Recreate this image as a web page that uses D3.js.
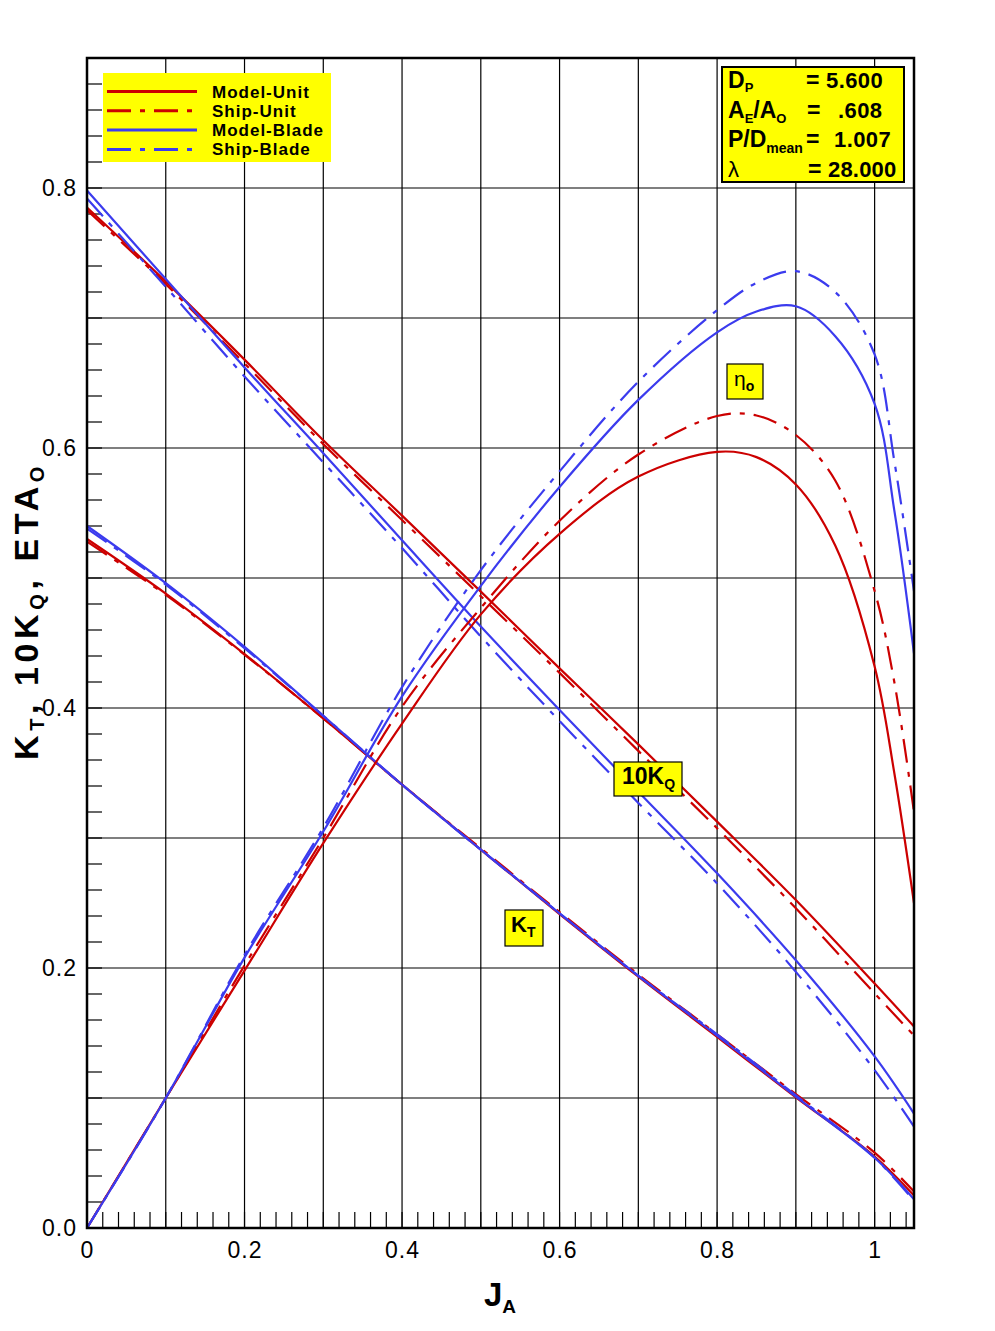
<!DOCTYPE html>
<html><head><meta charset="utf-8">
<script src="https://cdn.jsdelivr.net/npm/d3@7"></script>
<style>
html,body{margin:0;padding:0;background:#fff;}
svg{display:block;font-family:Arial,"Liberation Sans",sans-serif;}
</style></head>
<body>
<svg id="chart" width="995" height="1331"></svg>
<script>
// ---- data ----
const jBase = [0, 0.1, 0.2, 0.3, 0.4, 0.5, 0.6, 0.7, 0.8, 0.9, 1.0, 1.05];
const ktModelUnit  = [0.530, 0.488, 0.4415, 0.392, 0.341, 0.291, 0.2415, 0.1933, 0.147, 0.1005, 0.055, 0.025];
const ktShipUnit   = [0.528, 0.487, 0.441, 0.392, 0.341, 0.292, 0.243, 0.195, 0.149, 0.103, 0.058, 0.028];
const ktModelBlade = [0.540, 0.496, 0.447, 0.394, 0.341, 0.291, 0.242, 0.194, 0.148, 0.101, 0.054, 0.022];
const ktShipBlade  = [0.538, 0.495, 0.446, 0.394, 0.341, 0.291, 0.242, 0.194, 0.149, 0.102, 0.054, 0.021];

const kqModelUnit  = [0.785, 0.728, 0.668, 0.606, 0.548, 0.4895, 0.4305, 0.372, 0.3126, 0.2523, 0.188, 0.155];
const kqShipUnit   = [0.783, 0.726, 0.665, 0.603, 0.5446, 0.486, 0.427, 0.367, 0.3075, 0.246, 0.1805, 0.148];
const kqModelBlade = [0.798, 0.730, 0.662, 0.596, 0.529, 0.4626, 0.3985, 0.3356, 0.2728, 0.206, 0.132, 0.088];
const kqShipBlade  = [0.792, 0.724, 0.655, 0.589, 0.523, 0.455, 0.390, 0.327, 0.265, 0.197, 0.1215, 0.078];

const jEta = [0, 0.1, 0.2, 0.3, 0.4, 0.5, 0.6, 0.7, 0.8, 0.85, 0.9, 0.95, 1.0, 1.025, 1.05];
const etaModelUnit  = [0, 0.1, 0.198, 0.296, 0.388, 0.472, 0.534, 0.578, 0.597, 0.593, 0.572, 0.525, 0.432, 0.35, 0.25];
const etaShipUnit   = [0, 0.1, 0.202, 0.300, 0.401, 0.477, 0.544, 0.595, 0.6246, 0.625, 0.610, 0.575, 0.49, 0.42, 0.32];
const etaModelBlade = [0, 0.1, 0.208, 0.305, 0.409, 0.494, 0.570, 0.637, 0.689, 0.705, 0.709, 0.686, 0.634, 0.552, 0.442];
const etaShipBlade  = [0, 0.1, 0.210, 0.308, 0.416, 0.506, 0.582, 0.651, 0.706, 0.727, 0.736, 0.720, 0.672, 0.590, 0.49];

const seriesNames = ["Model-Unit", "Ship-Unit", "Model-Blade", "Ship-Blade"];
const xTickLabels = [0, 0.2, 0.4, 0.6, 0.8, 1];
const yTickLabels = [0.0, 0.2, 0.4, 0.6, 0.8];

// ---- styling ----
const RED = "#cc0000", BLUE = "#3b3bee";
const DASH = "24,9,5,9";
const styles = {
  "Model-Unit": {color: RED, dash: null},
  "Ship-Unit": {color: RED, dash: DASH},
  "Model-Blade": {color: BLUE, dash: null},
  "Ship-Blade": {color: BLUE, dash: DASH}
};

const svg = d3.select("#chart");
const L = 87, R = 914, T = 58, B = 1228;
const x = d3.scaleLinear().domain([0, 1.05]).range([L, R]);
const y = d3.scaleLinear().domain([0, 0.9]).range([B, T]);

// grid
const grid = svg.append("g");
grid.selectAll("line.v").data(d3.range(1, 11).map(i => i / 10)).join("line")
  .attr("x1", d => x(d)).attr("x2", d => x(d)).attr("y1", T).attr("y2", B)
  .attr("stroke", "#000").attr("stroke-width", 1.2);
grid.selectAll("line.h").data(d3.range(1, 9).map(i => i / 10)).join("line")
  .attr("y1", d => y(d)).attr("y2", d => y(d)).attr("x1", L).attr("x2", R)
  .attr("stroke", "#000").attr("stroke-width", 1.2);

// minor ticks
const xMinor = d3.range(1, 53).map(i => i * 0.02);
svg.append("g").selectAll("line").data(xMinor).join("line")
  .attr("x1", d => x(d)).attr("x2", d => x(d)).attr("y1", B).attr("y2", B - 16)
  .attr("stroke", "#000").attr("stroke-width", 1.2);
const yMinor = d3.range(1, 45).map(i => i * 0.02);
svg.append("g").selectAll("line").data(yMinor).join("line")
  .attr("y1", d => y(d)).attr("y2", d => y(d)).attr("x1", L).attr("x2", L + 15)
  .attr("stroke", "#000").attr("stroke-width", 1.2);

// axes labels via d3 axis
const xAxis = svg.append("g").attr("transform", `translate(0,${B})`)
  .call(d3.axisBottom(x).tickValues(xTickLabels).tickSize(0).tickPadding(14).tickFormat(d => d === 0 ? "0" : d === 1 ? "1" : d3.format(".1f")(d)));
xAxis.select(".domain").remove();
xAxis.selectAll("text").attr("font-size", 23).attr("fill", "#000").attr("font-family", "Arial,'Liberation Sans',sans-serif").attr("letter-spacing", 1);

const yAxis = svg.append("g").attr("transform", `translate(${L},0)`)
  .call(d3.axisLeft(y).tickValues(yTickLabels).tickSize(0).tickPadding(10).tickFormat(d3.format(".1f")));
yAxis.select(".domain").remove();
yAxis.selectAll("text").attr("font-size", 23).attr("fill", "#000").attr("font-family", "Arial,'Liberation Sans',sans-serif").attr("letter-spacing", 1);

// curves
const line = d3.line().x(d => x(d[0])).y(d => y(d[1])).curve(d3.curveCatmullRom.alpha(0.5));
const curves = [
  ["Model-Unit", jBase, ktModelUnit], ["Ship-Unit", jBase, ktShipUnit],
  ["Model-Blade", jBase, ktModelBlade], ["Ship-Blade", jBase, ktShipBlade],
  ["Model-Unit", jBase, kqModelUnit], ["Ship-Unit", jBase, kqShipUnit],
  ["Model-Blade", jBase, kqModelBlade], ["Ship-Blade", jBase, kqShipBlade],
  ["Model-Unit", jEta, etaModelUnit], ["Ship-Unit", jEta, etaShipUnit],
  ["Model-Blade", jEta, etaModelBlade], ["Ship-Blade", jEta, etaShipBlade]
];
const cg = svg.append("g");
curves.forEach(([name, js, vals]) => {
  const s = styles[name];
  cg.append("path").datum(js.map((j, i) => [j, vals[i]]))
    .attr("d", line).attr("fill", "none").attr("stroke", s.color)
    .attr("stroke-width", 2.2).attr("stroke-dasharray", s.dash);
});

// frame
svg.append("rect").attr("x", L).attr("y", T).attr("width", R - L).attr("height", B - T)
  .attr("fill", "none").attr("stroke", "#000").attr("stroke-width", 2.5);

// legend
const lg = svg.append("g");
lg.append("rect").attr("x", 103).attr("y", 73).attr("width", 228).attr("height", 89).attr("fill", "#ffff00");
seriesNames.forEach((n, i) => {
  const yy = 91.5 + i * 19.3;
  lg.append("line").attr("x1", 107).attr("x2", 197).attr("y1", yy).attr("y2", yy)
    .attr("stroke", styles[n].color).attr("stroke-width", 3).attr("stroke-dasharray", styles[n].dash);
  lg.append("text").attr("x", 212).attr("y", yy + 6).attr("font-size", 17).attr("font-weight", "bold")
    .attr("letter-spacing", 1).text(n);
});

// info box
const ib = svg.append("g");
ib.append("rect").attr("x", 722).attr("y", 67).attr("width", 182).attr("height", 115)
  .attr("fill", "#ffff00").attr("stroke", "#000").attr("stroke-width", 2);
function infoRow(yy, build, eqX, valX, val) {
  const t = ib.append("text").attr("x", 728).attr("y", yy).attr("font-size", 23).attr("font-weight", "bold");
  build(t);
  ib.append("text").attr("x", eqX).attr("y", yy).attr("font-size", 23).attr("font-weight", "bold").text("=");
  ib.append("text").attr("x", valX).attr("y", yy).attr("font-size", 22).attr("font-weight", "bold").attr("letter-spacing", 0.4).text(val);
}
infoRow(88, t => { t.append("tspan").text("D"); t.append("tspan").attr("font-size", 13).attr("dy", 4).text("P"); }, 806, 826, "5.600");
infoRow(118, t => {
  t.append("tspan").text("A"); t.append("tspan").attr("font-size", 13).attr("dy", 5).text("E");
  t.append("tspan").attr("dy", -5).text("/A"); t.append("tspan").attr("font-size", 13).attr("dy", 5).text("O");
}, 807, 838, ".608");
infoRow(147, t => { t.append("tspan").text("P/D"); t.append("tspan").attr("font-size", 14).attr("dy", 6).text("mean"); }, 806, 834, "1.007");
ib.append("text").attr("x", 728).attr("y", 177).attr("font-size", 22).text("λ");
ib.append("text").attr("x", 808).attr("y", 177).attr("font-size", 23).attr("font-weight", "bold").text("=");
ib.append("text").attr("x", 828).attr("y", 177).attr("font-size", 22).attr("font-weight", "bold").attr("letter-spacing", 0.2).text("28.000");

// curve labels
const labels = svg.append("g");
labels.append("rect").attr("x", 614).attr("y", 762).attr("width", 68).attr("height", 34).attr("fill", "#ffff00").attr("stroke", "#000").attr("stroke-width", 1.2);
const tq = labels.append("text").attr("x", 622).attr("y", 784).attr("font-size", 23).attr("font-weight", "bold");
tq.append("tspan").text("10K"); tq.append("tspan").attr("font-size", 14).attr("dy", 5).text("Q");

labels.append("rect").attr("x", 505).attr("y", 910).attr("width", 38).attr("height", 36).attr("fill", "#ffff00").attr("stroke", "#000").attr("stroke-width", 1.2);
const tk = labels.append("text").attr("x", 511).attr("y", 932).attr("font-size", 22).attr("font-weight", "bold");
tk.append("tspan").text("K"); tk.append("tspan").attr("font-size", 14).attr("dy", 5).text("T");

labels.append("rect").attr("x", 727).attr("y", 364).attr("width", 36).attr("height", 35).attr("fill", "#ffff00").attr("stroke", "#000").attr("stroke-width", 1.2);
const te = labels.append("text").attr("x", 734).attr("y", 386).attr("font-size", 21);
te.append("tspan").text("η"); te.append("tspan").attr("font-size", 14).attr("font-weight", "bold").attr("dy", 5).text("o");

// axis titles
const xt = svg.append("text").attr("x", 500).attr("y", 1306).attr("text-anchor", "middle")
  .attr("font-size", 33).attr("font-weight", "bold");
xt.append("tspan").text("J"); xt.append("tspan").attr("font-size", 19).attr("dy", 7).text("A");

const yt = svg.append("text").attr("transform", "translate(38,611) rotate(-90)").attr("text-anchor", "middle")
  .attr("font-size", 34).attr("font-weight", "bold").attr("letter-spacing", 4.6);
yt.append("tspan").text("K");
yt.append("tspan").attr("font-size", 20).attr("dy", 6).text("T");
yt.append("tspan").attr("dy", -6).text(", 10K");
yt.append("tspan").attr("font-size", 20).attr("dy", 6).text("Q");
yt.append("tspan").attr("dy", -6).text(", ETA");
yt.append("tspan").attr("font-size", 20).attr("dy", 6).text("O");
</script>
</body></html>
